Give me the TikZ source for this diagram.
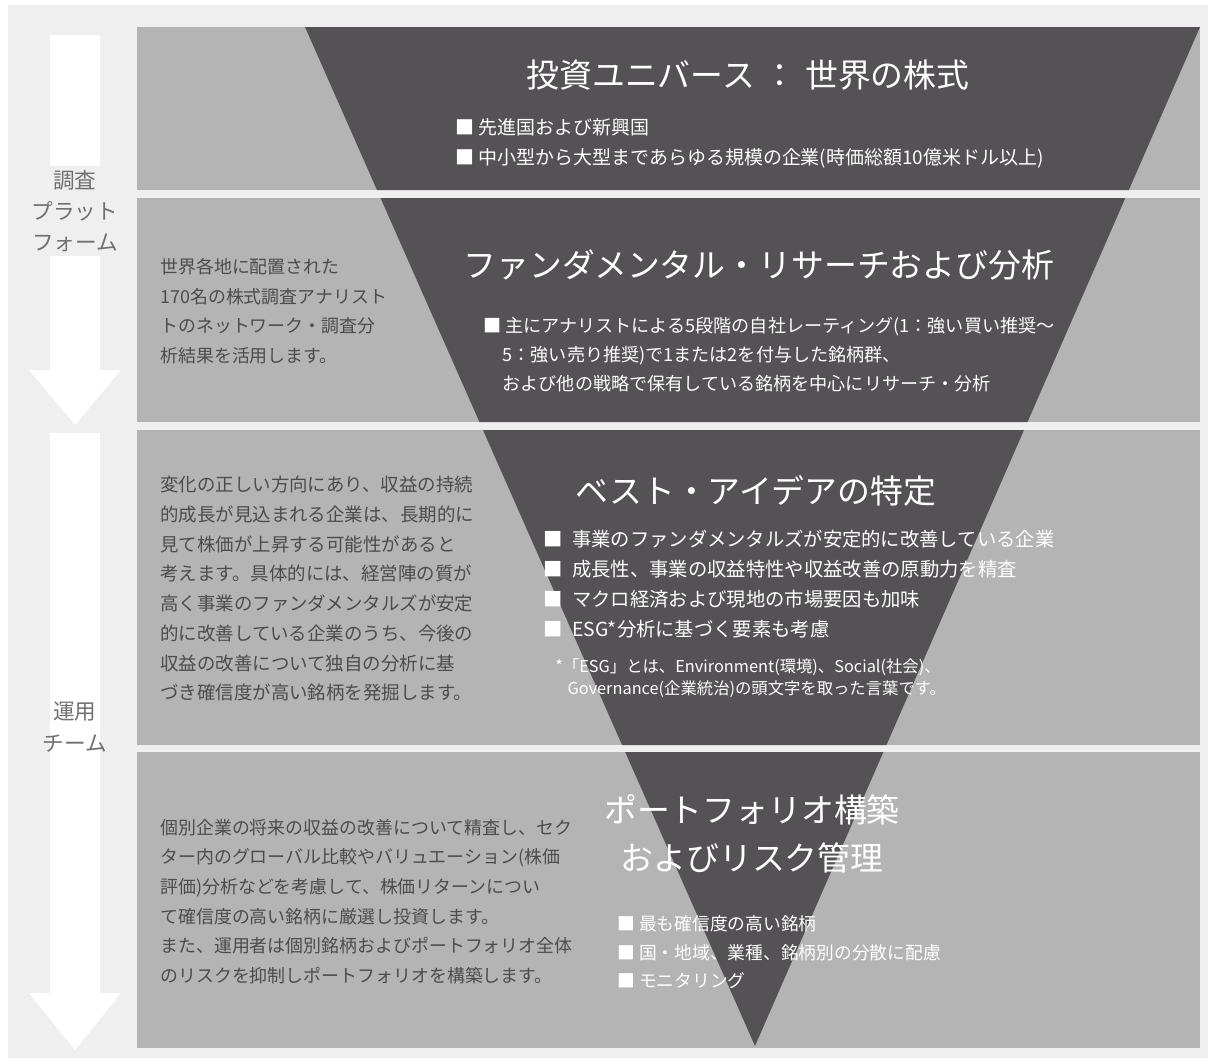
\documentclass[tikz,border=0pt]{standalone}
\usepackage{fontspec}
\setmainfont{Noto Sans CJK JP}
\usepackage{tikz}
\usetikzlibrary{positioning}
\definecolor{bgcol}{HTML}{EFEFEF}
\definecolor{panelcol}{HTML}{B4B4B4}
\definecolor{darkcol}{HTML}{545254}
\definecolor{notecol}{HTML}{4C4C4C}
\definecolor{labelcol}{HTML}{707070}
\tikzstyle{headbox} = [text=white, inner sep=0pt, font=\fontsize{18.7pt}{22pt}\selectfont]
\tikzstyle{itembox} = [text=white, align=left, anchor=north west, inner sep=0pt, font=\fontsize{10.3pt}{16.6pt}\selectfont]
\tikzstyle{notebox} = [text=notecol, align=left, anchor=north west, inner sep=0pt, font=\fontsize{10.2pt}{16.8pt}\selectfont]
\tikzstyle{teambox} = [text=labelcol, align=center, inner sep=2pt, font=\fontsize{12.3pt}{17.8pt}\selectfont]
\tikzstyle{panelbox} = [fill=panelcol]
\tikzstyle{flowarrow} = [fill=white]

\begin{document}
\begin{tikzpicture}[x=0.02cm, y=-0.02cm]
\useasboundingbox (0,0) rectangle (1214,1062);
\fill[white] (0,0) rectangle (1214,1062);
\fill[bgcol] (8,5) rectangle (1208,1058);

\fill[panelbox] (137,27) rectangle (1200,190);
\fill[panelbox] (137,198) rectangle (1200,422);
\fill[panelbox] (137,430) rectangle (1200,745);
\fill[panelbox] (137,752) rectangle (1200,1048);

\begin{scope}
\clip (137,27) rectangle (1200,190) (137,198) rectangle (1200,422)
      (137,430) rectangle (1200,745) (137,752) rectangle (1200,1048);
\fill[darkcol] (305,27) -- (1200,27) -- (755,1046) -- cycle;
\end{scope}

\fill[flowarrow] (50,35) -- (100,35) -- (100,370) -- (121,370) -- (75,425) -- (29,370) -- (50,370) -- cycle;
\fill[flowarrow] (50,433) -- (100,433) -- (100,993) -- (121,993) -- (75,1050) -- (29,993) -- (50,993) -- cycle;

\node (r) [teambox, fill=bgcol] at (75,211) {調査\\プラット\\フォーム};

\node (o) [teambox] at (75,727) {運用\\チーム};

\node (1) [headbox] at (748,75) {投資ユニバース\hspace{5pt}：\hspace{5pt}世界の株式};

\node (1a) [itembox, font=\fontsize{10.8pt}{17pt}\selectfont] at (455,118) {■ 先進国および新興国\\■ 中小型から大型まであらゆる規模の企業(時価総額10億米ドル以上)};

\node (2) [headbox] at (759,265) {ファンダメンタル・リサーチおよび分析};

\node (2a) [itembox] at (483,317) {■ 主にアナリストによる5段階の自社レーティング(1：強い買い推奨～\\\hspace*{11pt}5：強い売り推奨)で1または2を付与した銘柄群、\\\hspace*{11pt}および他の戦略で保有している銘柄を中心にリサーチ・分析};

\node (2l) [notebox] at (160,258) {世界各地に配置された\\170名の株式調査アナリスト\\トのネットワーク・調査分\\析結果を活用します。};

\node (3) [headbox] at (756,491) {ベスト・アイデアの特定};

\node (3a) [itembox, font=\fontsize{11pt}{17pt}\selectfont] at (543,530) {■\enspace 事業のファンダメンタルズが安定的に改善している企業\\■\enspace 成長性、事業の収益特性や収益改善の原動力を精査\\■\enspace マクロ経済および現地の市場要因も加味\\■\enspace ESG*分析に基づく要素も考慮};

\node (3b) [itembox, font=\fontsize{9.3pt}{12.5pt}\selectfont] at (555,658) {*「ESG」とは、Environment(環境)、Social(社会)、\\\hspace*{7pt}Governance(企業統治)の頭文字を取った言葉です。};

\node (3l) [notebox, font=\fontsize{10.5pt}{16.9pt}\selectfont] at (160,476) {変化の正しい方向にあり、収益の持続\\的成長が見込まれる企業は、長期的に\\見て株価が上昇する可能性があると\\考えます。具体的には、経営陣の質が\\高く事業のファンダメンタルズが安定\\的に改善している企業のうち、今後の\\収益の改善について独自の分析に基\\づき確信度が高い銘柄を発掘します。};

\node (4a) [headbox] at (752,810) {ポートフォリオ構築};

\node (4b) [headbox, below of=4a, node distance=0.96cm] {およびリスク管理};

\node (4c) [itembox, font=\fontsize{10.1pt}{16.4pt}\selectfont] at (617,915) {■ 最も確信度の高い銘柄\\■ 国・地域、業種、銘柄別の分散に配慮\\■ モニタリング};

\node (4l) [notebox] at (160,819) {個別企業の将来の収益の改善について精査し、セク\\ター内のグローバル比較やバリュエーション(株価\\評価)分析などを考慮して、株価リターンについ\\て確信度の高い銘柄に厳選し投資します。\\また、運用者は個別銘柄およびポートフォリオ全体\\のリスクを抑制しポートフォリオを構築します。};

\end{tikzpicture}
\end{document}
